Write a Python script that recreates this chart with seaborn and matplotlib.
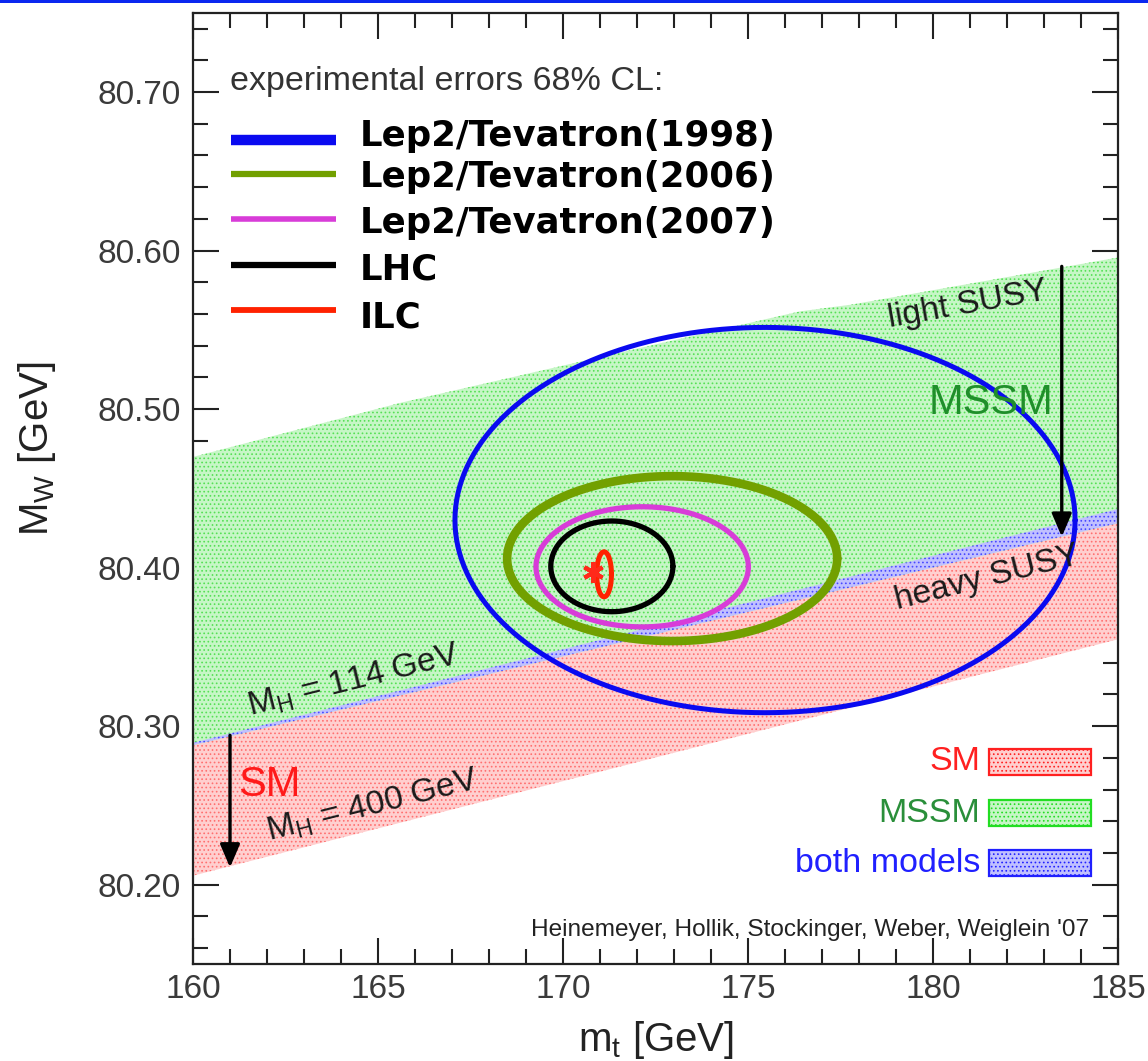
import numpy as np
import pandas as pd
import matplotlib
matplotlib.use("Agg")
import matplotlib.pyplot as plt
import seaborn as sns
from matplotlib.lines import Line2D
from matplotlib.patches import Rectangle
from matplotlib.ticker import MultipleLocator, FormatStrFormatter

# ---- 68% CL error ellipses in the (m_t, M_W) plane ----
experiments = ["Lep2/Tevatron(1998)", "Lep2/Tevatron(2006)", "Lep2/Tevatron(2007)", "LHC", "ILC"]
mt_central = [175.46, 172.95, 172.14, 171.32, 171.11]
mw_central = [80.430, 80.4057, 80.4005, 80.4008, 80.3958]
mt_halfaxis = [8.38, 4.46, 2.87, 1.65, 0.20]
mw_halfaxis = [0.1215, 0.0520, 0.0379, 0.0286, 0.0142]
ellipse_colors = ["#0a0af0", "#72a000", "#d83cd8", "#000000", "#ff2200"]
ellipse_widths = [3.6, 6.2, 3.8, 3.8, 3.6]

# central value marker
mt_star = [170.82]
mw_star = [80.3973]

# ---- SM band: M_H = 400 GeV (lower edge) to M_H = 114 GeV (upper edge) ----
sm_mt = [160.0, 185.0]
sm_mw_lower = [80.2057, 80.3548]
sm_mw_upper = [80.2895, 80.4370]

# ---- MSSM band: heavy SUSY (lower edge) to light SUSY (upper edge) ----
mssm_mt = [160.0, 165.6, 176.4, 177.8, 185.0]
mssm_mw_lower = [80.2880, 80.3194, 80.3799, 80.3877, 80.4281]
mssm_mw_upper = [80.4698, 80.5039, 80.5616, 80.5659, 80.5956]

band_names = ["SM", "MSSM", "both models"]

W, H = 1148, 1061

sns.set_theme(style="ticks")
plt.rcParams["font.family"] = ["Liberation Sans", "DejaVu Sans"]
plt.rcParams["mathtext.fontset"] = "custom"
plt.rcParams["mathtext.rm"] = "Liberation Sans"
plt.rcParams["mathtext.it"] = "Liberation Sans:italic"
plt.rcParams["hatch.linewidth"] = 0.7

fig = plt.figure(figsize=(W / 100, H / 100), dpi=100, facecolor="white")
ax = fig.add_axes([193 / W, 1 - 964 / H, 925 / W, 951.3 / H])
ax.set_facecolor("white")


def fx(px):
    return px / W


def fy(py):
    return 1 - py / H


# bands
sm_style = dict(facecolor="#ffcfcf", edgecolor="#ff7070", hatch="....", linewidth=0)
mssm_style = dict(facecolor="#c6f6c6", edgecolor="#55e055", hatch="....", linewidth=0)
both_style = dict(facecolor="#c0c0ff", edgecolor="#4848ff", hatch="....", linewidth=0)

ax.fill_between(sm_mt, sm_mw_lower, sm_mw_upper, zorder=1, **sm_style)
ax.fill_between(mssm_mt, mssm_mw_lower, mssm_mw_upper, zorder=1, **mssm_style)
# overlap of both models: between the MSSM lower edge and the SM upper edge
mssm_lo = np.array(mssm_mw_lower)
sm_up_on_mssm = np.interp(mssm_mt, sm_mt, sm_mw_upper)
ax.fill_between(mssm_mt, mssm_lo, sm_up_on_mssm, zorder=2, **both_style)

# ellipses
t = np.linspace(0, 2 * np.pi, 361)
rows = []
for name, cx, cy, a, b in zip(experiments, mt_central, mw_central, mt_halfaxis, mw_halfaxis):
    for i, ti in enumerate(t):
        rows.append({"experiment": name, "step": i,
                     "mt": cx + a * np.cos(ti), "mw": cy + b * np.sin(ti)})
ell = pd.DataFrame(rows)
sns.lineplot(data=ell, x="mt", y="mw", hue="experiment", size="experiment",
             hue_order=experiments, size_order=experiments,
             palette=dict(zip(experiments, ellipse_colors)),
             sizes=dict(zip(experiments, ellipse_widths)),
             sort=False, estimator=None, units="experiment", legend=False,
             ax=ax, zorder=5)

ax.plot(mt_star, mw_star, linestyle="none", marker=(6, 2, 0), markersize=15,
        markeredgewidth=3, color="#ff2a1a", zorder=6)

# arrows
arrow_kw = dict(arrowstyle="-|>,head_length=0.7,head_width=0.3", lw=2.4, color="black",
                shrinkA=0, shrinkB=0, mutation_scale=20)
ax.annotate("", xy=(161.0, 80.2109), xytext=(161.0, 80.2942), arrowprops=arrow_kw, zorder=7)
ax.annotate("", xy=(183.48, 80.4195), xytext=(183.48, 80.590), arrowprops=arrow_kw, zorder=7)

# in-plot labels
ax.text(162.05, 80.2629, "SM", color="#ff1a1a", fontsize=30, ha="center", va="center", zorder=8)
ax.text(181.57, 80.5038, "MSSM", color="#1f8f2a", fontsize=30, ha="center", va="center", zorder=8)
ax.text(180.93, 80.5657, "light SUSY", color="#1a1a1a", fontsize=24, rotation=10,
        ha="center", va="center", zorder=8)
ax.text(181.47, 80.3932, "heavy SUSY", color="#1a1a1a", fontsize=24, rotation=14,
        ha="center", va="center", zorder=8)
ax.text(164.35, 80.3285, r"$\mathregular{M_H}$ = 114 GeV", color="#1a1a1a", fontsize=24,
        rotation=14, ha="center", va="center", zorder=8)
ax.text(164.86, 80.2497, r"$\mathregular{M_H}$ = 400 GeV", color="#1a1a1a", fontsize=24,
        rotation=14, ha="center", va="center", zorder=8)

# axes
ax.set_xlim(160, 185)
ax.set_ylim(80.15, 80.75)
ax.xaxis.set_major_locator(MultipleLocator(5))
ax.xaxis.set_minor_locator(MultipleLocator(1))
ax.yaxis.set_major_locator(MultipleLocator(0.1))
ax.yaxis.set_minor_locator(MultipleLocator(0.02))
ax.yaxis.set_major_formatter(FormatStrFormatter("%.2f"))
ax.tick_params(which="both", direction="in", top=True, right=True, width=1.5, color="#222222")
ax.tick_params(which="major", length=18.5)
ax.tick_params(which="minor", length=10.5)
ax.tick_params(axis="x", which="major", labelsize=24, labelcolor="#3a3a3a", pad=7)
ax.tick_params(axis="y", which="major", labelsize=24, labelcolor="#3a3a3a", pad=9)
for s in ax.spines.values():
    s.set_linewidth(1.6)
    s.set_color("#222222")
    s.set_zorder(10)

ax.set_xlabel(r"$\mathregular{m_t}$ [GeV]", fontsize=29, color="#222222")
ax.set_ylabel(r"$\mathregular{M_W}$ [GeV]", fontsize=29, color="#222222")
ax.xaxis.set_label_coords(0.5005, -0.080)
ax.xaxis.label.set_va("center")
ax.yaxis.set_label_coords(-0.1686, 0.5414)
ax.yaxis.label.set_va("center")
ax.yaxis.label.set_rotation_mode("default")

# legend of the ellipses
fig.text(fx(230), fy(90), "experimental errors 68% CL:", fontsize=24.5, color="#333333",
         ha="left", va="baseline")
key_y = [140, 174, 219, 264.5, 310]
key_w = [7.5, 4.5, 4.0, 4.5, 4.2]
text_base = [146, 187, 233, 279, 327]
for name, col, ky, kw, tb in zip(experiments, ellipse_colors, key_y, key_w, text_base):
    fig.add_artist(Line2D([fx(231), fx(336)], [fy(ky), fy(ky)], color=col, lw=kw,
                          solid_capstyle="butt", transform=fig.transFigure))
    fig.text(fx(360), fy(tb), name, fontsize=25.6, fontweight="bold", color="black",
             family=["DejaVu Sans"], ha="left", va="baseline")

# legend of the bands
band_text_colors = ["#ff2020", "#2a8f3a", "#2020ff"]
band_styles = [sm_style, mssm_style, both_style]
band_edges = ["#ff2020", "#22dd22", "#2020ff"]
box_top = [749, 800, 850]
for name, tc, st, ec, bt in zip(band_names, band_text_colors, band_styles, band_edges, box_top):
    fig.add_artist(Rectangle((fx(989), fy(bt + 26)), (1091 - 989) / W, 26 / H,
                             transform=fig.transFigure, facecolor=st["facecolor"],
                             edgecolor=ec, hatch="....", linewidth=1.6))
    fig.text(fx(980), fy(bt + 13), name, fontsize=24.5, color=tc, ha="right", va="center")

fig.text(fx(810), fy(930), "Heinemeyer, Hollik, Stockinger, Weber, Weiglein '07",
         fontsize=17.6, color="#222222", ha="center", va="center")

# slide rule at the top edge
fig.add_artist(Rectangle((0, 1 - 3 / H), 1, 3 / H, transform=fig.transFigure,
                         facecolor="#0a28f0", edgecolor="none"))

fig.savefig("out.png", dpi=100, facecolor="white")
